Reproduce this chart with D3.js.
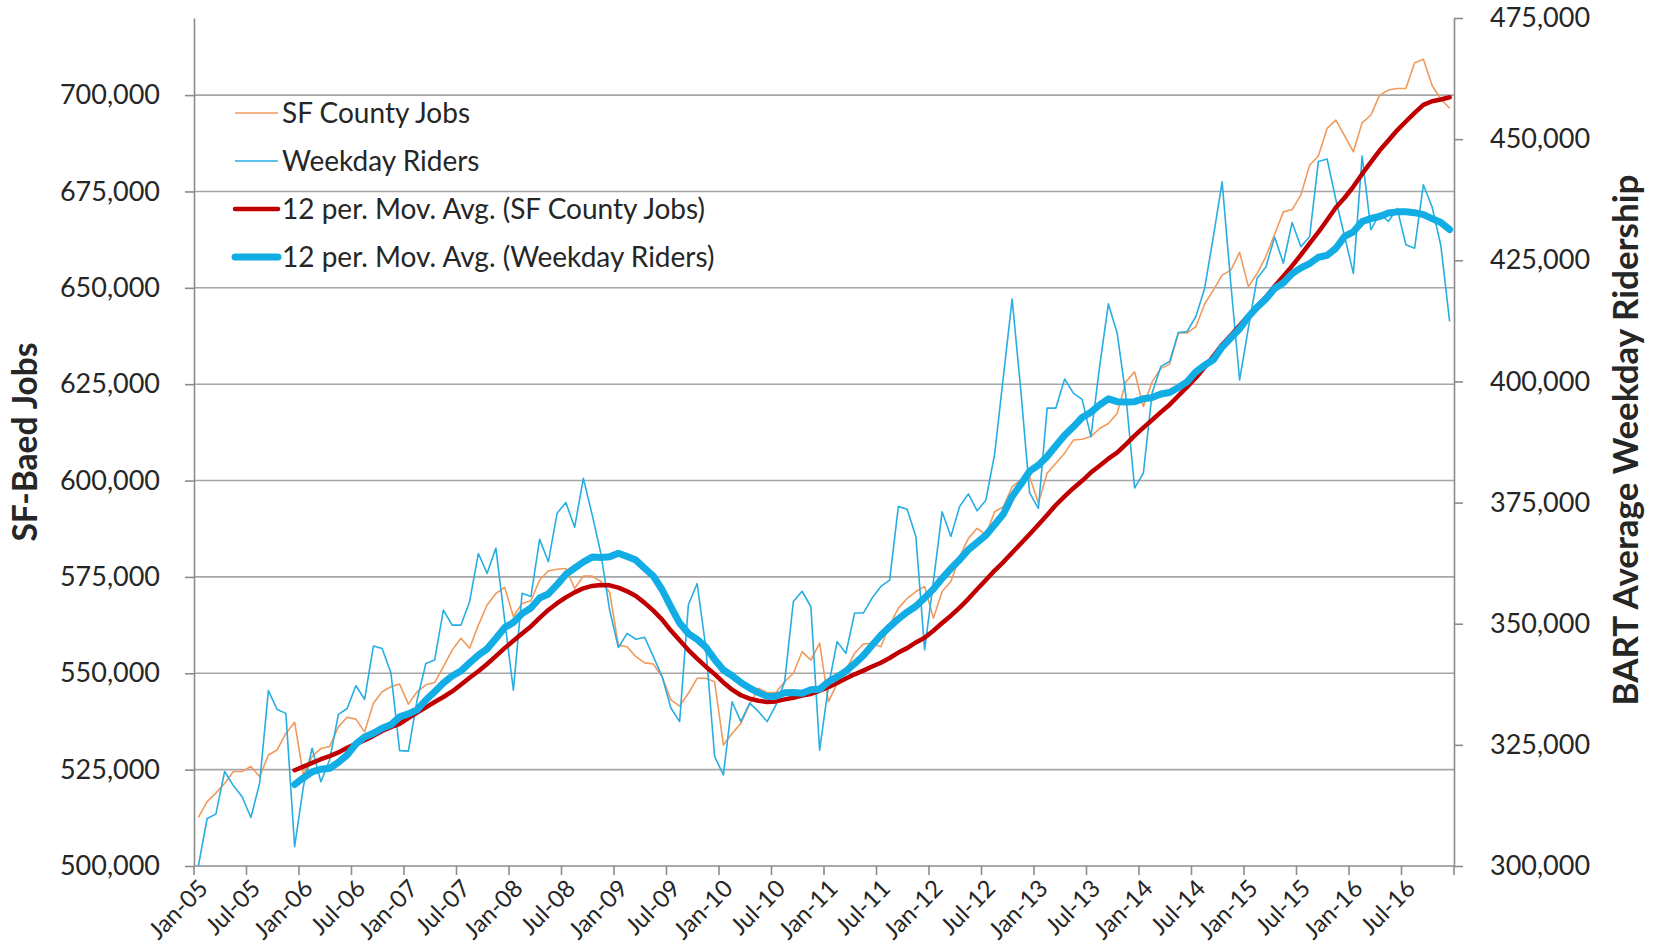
<!DOCTYPE html>
<html>
<head>
<meta charset="utf-8">
<script src="https://cdn.jsdelivr.net/npm/d3@7"></script>
<style>
  html, body { margin: 0; padding: 0; background: #fff; }
  svg { display: block; font-family: Lato, "Open Sans", sans-serif; }
</style>
</head>
<body>
<div id="chart"></div>
<script>
// Monthly series, Jan-05 .. Dec-16 (12 values per row)
const sfCountyJobs = [
  512600, 516700, 518900, 521400, 524500, 524500, 525800, 523200, 528800, 530100, 534400, 537300, // 2005
  523600, 528400, 530500, 531000, 536100, 538600, 538100, 534800, 542200, 545200, 546500, 547200, // 2006
  542000, 545200, 547000, 547600, 551700, 556000, 559100, 556500, 562500, 567700, 570700, 572300, // 2007
  564700, 568100, 568800, 574200, 576600, 577000, 577200, 572000, 575200, 575200, 573800, 571000, // 2008
  557300, 556900, 554300, 552700, 552400, 549100, 543100, 541500, 544800, 548700, 548700, 547800, // 2009
  531400, 534400, 537000, 542000, 546100, 545000, 545000, 547800, 550000, 555600, 553400, 557800, // 2010
  542600, 547400, 550800, 555200, 557600, 557800, 556900, 562500, 566900, 569400, 571200, 572500, // 2011
  564300, 571200, 573800, 580200, 585000, 587600, 585900, 591900, 593200, 598400, 600100, 601000, // 2012
  594100, 601900, 604500, 607100, 610500, 610700, 611400, 613500, 614800, 617400, 625600, 628200, // 2013
  619200, 625600, 629100, 630200, 638300, 638300, 639900, 645800, 649400, 653300, 654600, 659200, // 2014
  650300, 653700, 658100, 663900, 669700, 670300, 674100, 681800, 684200, 691400, 693500, 689400, // 2015
  685300, 692800, 694800, 700000, 701300, 701700, 701700, 708400, 709300, 702500, 699000, 696600  // 2016
];

const weekdayRiders = [
  300000, 309800, 310700, 319500, 316600, 314300, 310000, 317100, 336200, 332300, 331500, 304000, // 2005
  316400, 324300, 317400, 321900, 331300, 332500, 337200, 334400, 345400, 344900, 339900, 323800, // 2006
  323700, 334300, 341800, 342500, 352800, 349700, 349700, 354600, 364500, 360400, 365600, 350800, // 2007
  336300, 356300, 355600, 367400, 362800, 372800, 375000, 369900, 380000, 372500, 364500, 352800, // 2008
  345100, 348000, 346800, 347200, 343200, 339100, 332600, 329800, 353900, 358300, 345000, 322600, // 2009
  318800, 333900, 329800, 333600, 331900, 329800, 333200, 338000, 354600, 356700, 353500, 323900, // 2010
  337000, 346300, 343900, 352200, 352200, 355300, 357700, 359000, 374200, 373600, 368000, 344600, // 2011
  358700, 373100, 368000, 374200, 376800, 373300, 375500, 385000, 401000, 417000, 398000, 377000, // 2012
  373800, 394500, 394500, 400500, 397600, 396300, 388600, 403100, 416000, 410000, 397000, 378000, // 2013
  381100, 397600, 403100, 404100, 410100, 410300, 413400, 419200, 429900, 441200, 420000, 400300, // 2014
  411000, 421300, 423600, 429800, 424400, 432800, 427800, 429900, 445400, 445900, 437500, 429900, // 2015
  422300, 446500, 431300, 434700, 433000, 435700, 428200, 427500, 440600, 436000, 428000, 412400  // 2016
];

const months = d3.timeMonths(new Date(2005, 0, 1), new Date(2017, 0, 1));
const monthLabels = [
  'Jan-05', 'Jul-05', 'Jan-06', 'Jul-06', 'Jan-07', 'Jul-07', 'Jan-08', 'Jul-08',
  'Jan-09', 'Jul-09', 'Jan-10', 'Jul-10', 'Jan-11', 'Jul-11', 'Jan-12', 'Jul-12',
  'Jan-13', 'Jul-13', 'Jan-14', 'Jul-14', 'Jan-15', 'Jul-15', 'Jan-16', 'Jul-16'
];
const jobsTicks = [500000, 525000, 550000, 575000, 600000, 625000, 650000, 675000, 700000];
const riderTicks = [300000, 325000, 350000, 375000, 400000, 425000, 450000, 475000];

const legendItems = [
  { label: 'SF County Jobs', color: '#F19A5C', width: 1.6 },
  { label: 'Weekday Riders', color: '#27AEE3', width: 1.6 },
  { label: '12 per. Mov. Avg. (SF County Jobs)', color: '#C00000', width: 4.5 },
  { label: '12 per. Mov. Avg. (Weekday Riders)', color: '#13ADE6', width: 7 }
];

const PERIOD = 12;
const AXIS_COLOR = '#8C8C8C';
const GRID_COLOR = '#A6A6A6';
const TEXT_COLOR = '#262626';

// Excel-style trailing moving average
function movingAverage(values, period) {
  return values.map((v, i) => (i < period - 1 ? null : d3.mean(values.slice(i - period + 1, i + 1))));
}

const width = 1659;
const height = 949;
const plot = { left: 194, right: 1454, top: 18, bottom: 866 };

const svg = d3.select('#chart')
  .append('svg')
  .attr('width', width)
  .attr('height', height)
  .attr('viewBox', `0 0 ${width} ${height}`);

const x = d3.scalePoint()
  .domain(d3.range(months.length))
  .range([plot.left, plot.right])
  .padding(0.5);
const step = x.step();

const yJobs = d3.scaleLinear().domain([500000, 720000]).range([plot.bottom, plot.top]);
const yRiders = d3.scaleLinear().domain([300000, 475000]).range([plot.bottom, plot.top]);

// Gridlines
svg.append('g')
  .selectAll('line')
  .data(jobsTicks.slice(1))
  .join('line')
  .attr('x1', plot.left)
  .attr('x2', plot.right)
  .attr('y1', (d) => yJobs(d))
  .attr('y2', (d) => yJobs(d))
  .attr('stroke', GRID_COLOR)
  .attr('stroke-width', 1.6);

// Left axis
const leftAxis = svg.append('g')
  .attr('transform', `translate(${plot.left},0)`)
  .call(d3.axisLeft(yJobs).tickValues(jobsTicks).tickSize(9).tickSizeOuter(0).tickPadding(25).tickFormat(d3.format(',')));

// Right axis
const rightAxis = svg.append('g')
  .attr('transform', `translate(${plot.right},0)`)
  .call(d3.axisRight(yRiders).tickValues(riderTicks).tickSize(9).tickSizeOuter(0).tickPadding(27).tickFormat(d3.format(',')));

[leftAxis, rightAxis].forEach((ax) => {
  ax.select('.domain').attr('stroke', AXIS_COLOR).attr('stroke-width', 1.6);
  ax.selectAll('.tick line').attr('stroke', AXIS_COLOR).attr('stroke-width', 1.6);
  ax.selectAll('.tick text')
    .attr('fill', TEXT_COLOR)
    .style('font-size', '27px')
    .style('font-family', 'Lato, sans-serif');
});

// Bottom axis (category axis, tick marks between categories every 6 months)
const xAxis = svg.append('g');
xAxis.append('line')
  .attr('x1', plot.left)
  .attr('x2', plot.right)
  .attr('y1', plot.bottom)
  .attr('y2', plot.bottom)
  .attr('stroke', AXIS_COLOR)
  .attr('stroke-width', 1.6);

const tickIdx = d3.range(0, months.length + 1, 6);
xAxis.selectAll('.xtick')
  .data(tickIdx)
  .join('line')
  .attr('class', 'xtick')
  .attr('x1', (i) => x(0) - step / 2 + i * step)
  .attr('x2', (i) => x(0) - step / 2 + i * step)
  .attr('y1', plot.bottom)
  .attr('y2', plot.bottom + 9)
  .attr('stroke', AXIS_COLOR)
  .attr('stroke-width', 1.6);

xAxis.selectAll('.xlabel')
  .data(monthLabels)
  .join('text')
  .attr('class', 'xlabel')
  .attr('transform', (d, j) => `translate(${x(j * 6) + 5},${plot.bottom + 18}) rotate(-45)`)
  .attr('text-anchor', 'end')
  .attr('dy', '0.35em')
  .attr('fill', TEXT_COLOR)
  .style('font-size', '24px')
  .text((d) => d);

// Axis titles
svg.append('text')
  .attr('transform', `translate(37,${(plot.top + plot.bottom) / 2}) rotate(-90)`)
  .attr('text-anchor', 'middle')
  .attr('fill', TEXT_COLOR)
  .style('font-size', '33.5px')
  .style('font-weight', 'bold')
  .text('SF-Baed Jobs');

svg.append('text')
  .attr('transform', `translate(1638,${(plot.top + plot.bottom) / 2 - 2}) rotate(-90)`)
  .attr('text-anchor', 'middle')
  .attr('fill', TEXT_COLOR)
  .style('font-size', '35px')
  .style('font-weight', 'bold')
  .text('BART Average Weekday Ridership');

// Series
const lineJobs = d3.line()
  .defined((d) => d != null)
  .x((d, i) => x(i))
  .y((d) => yJobs(d));
const lineRiders = d3.line()
  .defined((d) => d != null)
  .x((d, i) => x(i))
  .y((d) => yRiders(d));

const series = svg.append('g').attr('fill', 'none').attr('stroke-linejoin', 'round');

series.append('path')
  .datum(sfCountyJobs)
  .attr('d', lineJobs)
  .attr('stroke', legendItems[0].color)
  .attr('stroke-width', legendItems[0].width);

series.append('path')
  .datum(weekdayRiders)
  .attr('d', lineRiders)
  .attr('stroke', legendItems[1].color)
  .attr('stroke-width', legendItems[1].width);

series.append('path')
  .datum(movingAverage(sfCountyJobs, PERIOD))
  .attr('d', lineJobs)
  .attr('stroke', legendItems[2].color)
  .attr('stroke-width', legendItems[2].width)
  .attr('stroke-linecap', 'round');

series.append('path')
  .datum(movingAverage(weekdayRiders, PERIOD))
  .attr('d', lineRiders)
  .attr('stroke', legendItems[3].color)
  .attr('stroke-width', legendItems[3].width)
  .attr('stroke-linecap', 'round');

// Legend
const legend = svg.append('g');
const rows = legend.selectAll('g')
  .data(legendItems)
  .join('g')
  .attr('transform', (d, i) => `translate(235,${113 + i * 48})`);

rows.append('line')
  .attr('x1', 0)
  .attr('x2', 43)
  .attr('stroke', (d) => d.color)
  .attr('stroke-width', (d) => d.width)
  .attr('stroke-linecap', (d, i) => (i > 1 ? 'round' : 'butt'));

rows.append('text')
  .attr('x', 47)
  .attr('dy', '0.35em')
  .attr('fill', TEXT_COLOR)
  .style('font-size', '28px')
  .text((d) => d.label);
</script>
</body>
</html>
